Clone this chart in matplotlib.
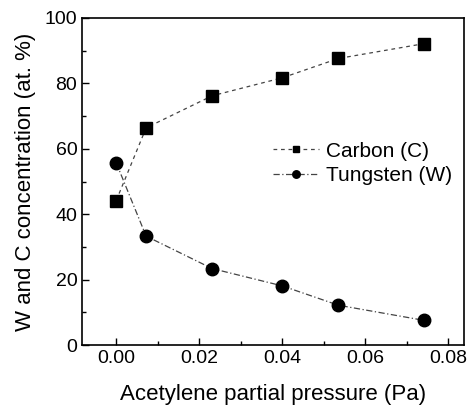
import matplotlib
matplotlib.use('Agg')
import matplotlib.pyplot as plt
from matplotlib.ticker import MultipleLocator

plt.rcParams['font.family'] = ['Liberation Sans', 'DejaVu Sans']

# acetylene partial pressure (Pa)
pressure = [0.0, 0.0072, 0.0231, 0.040, 0.0535, 0.074]
# concentration (at. %)
carbon = [44.2, 66.4, 76.2, 81.7, 87.6, 92.1]
tungsten = [55.7, 33.3, 23.4, 18.1, 12.2, 7.6]

fig, ax = plt.subplots(figsize=(4.67, 4.07), dpi=100)
fig.subplots_adjust(left=0.176, right=0.994, top=0.956, bottom=0.152)

ax.plot(pressure, carbon, linestyle=(0, (3, 3)), color='#444444', lw=0.9,
        marker='s', ms=8, mfc='black', mec='black', label='Carbon (C)')
ax.plot(pressure, tungsten, linestyle=(0, (5, 2, 1, 2)), color='#444444', lw=0.9,
        marker='o', ms=9, mfc='black', mec='black', label='Tungsten (W)')

ax.set_xlim(-0.0082, 0.0838)
ax.set_ylim(0, 100)
ax.xaxis.set_major_locator(MultipleLocator(0.02))
ax.xaxis.set_minor_locator(MultipleLocator(0.01))
ax.yaxis.set_major_locator(MultipleLocator(20))
ax.yaxis.set_minor_locator(MultipleLocator(10))
ax.xaxis.set_major_formatter(plt.FuncFormatter(lambda v, p: f'{v:.2f}'))
ax.tick_params(which='both', direction='in', top=False, right=False, labelsize=14)
ax.tick_params(which='major', length=5, width=1)
ax.tick_params(which='minor', length=3, width=1)
for s in ax.spines.values():
    s.set_linewidth(1.2)

ax.set_xlabel('Acetylene partial pressure (Pa)', fontsize=16, labelpad=12)
ax.set_ylabel('W and C concentration (at. %)', fontsize=16, labelpad=6)

ax.legend(loc='upper right', bbox_to_anchor=(1.0, 0.66), frameon=False,
          fontsize=15, handlelength=2.2, markerscale=0.6, handletextpad=0.3,
          labelspacing=0.25, borderaxespad=0.2)

fig.savefig('out.png', dpi=100)
